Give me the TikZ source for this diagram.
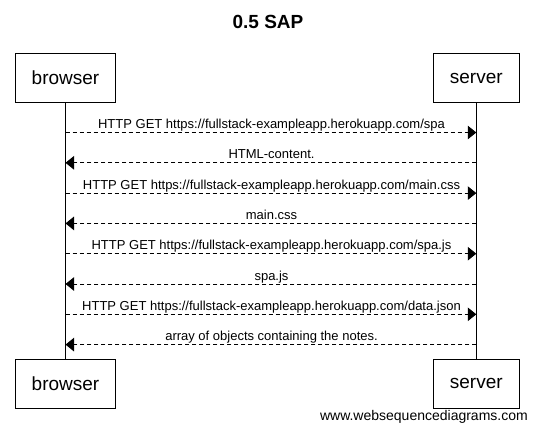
\documentclass[tikz,border=0pt]{standalone}
\usepackage{fontspec}
\setmainfont{Liberation Sans}
\usetikzlibrary{arrows.meta}
\begin{document}
\begin{tikzpicture}[x=1pt,y=-1pt,
  actor/.style={draw,line width=1pt,minimum width=#1,minimum height=49pt,inner sep=0pt,font=\fontsize{19}{23}\selectfont},
  life/.style={line width=1pt},
  msg/.style={line width=1pt,dash pattern=on 4pt off 3pt,-{Triangle[length=8.5pt,width=13.5pt]}},
  lbl/.style={anchor=base,inner sep=0pt,font=\fontsize{13}{15}\selectfont}]
\useasboundingbox (0,0) rectangle (534,432);
\node[anchor=base,inner sep=0pt,font=\bfseries\fontsize{19}{23}\selectfont] (title) at (268,28.5) {0.5 SAP};
\node[actor=100pt] (bt) at (65.5,78) {browser};
\node[actor=86pt] (st) at (476.3,78) {server};
\node[actor=100pt] (bb) at (65.5,383.5) {browser};
\node[actor=86pt] (sb) at (476.3,383.5) {server};
\draw[life] (bt.south) -- (bb.north);
\draw[life] (st.south) -- (sb.north);
\foreach \i/\y in {1/132.5,2/162.8,3/193.1,4/223.4,5/253.7,6/284,7/314.3,8/344.6}{
  \coordinate (b\i) at (65.5,\y);
  \coordinate (s\i) at (476.3,\y);
}
\draw[msg] (b1) -- (s1);
\draw[msg] (s2) -- (b2);
\draw[msg] (b3) -- (s3);
\draw[msg] (s4) -- (b4);
\draw[msg] (b5) -- (s5);
\draw[msg] (s6) -- (b6);
\draw[msg] (b7) -- (s7);
\draw[msg] (s8) -- (b8);
\node[lbl] (l1) at (271.5,128.5) {HTTP GET https://fullstack-exampleapp.herokuapp.com/spa};
\node[lbl] (l2) at (271.5,158.8) {HTML-content.};
\node[lbl] (l3) at (271.5,189.1) {HTTP GET https://fullstack-exampleapp.herokuapp.com/main.css};
\node[lbl] (l4) at (271.5,219.4) {main.css};
\node[lbl] (l5) at (271.5,249.7) {HTTP GET https://fullstack-exampleapp.herokuapp.com/spa.js};
\node[lbl] (l6) at (271.5,280) {spa.js};
\node[lbl] (l7) at (271.5,310.3) {HTTP GET https://fullstack-exampleapp.herokuapp.com/data.json};
\node[lbl] (l8) at (271.5,340.6) {array of objects containing the notes.};
\node[anchor=base east,inner sep=0pt,font=\fontsize{14}{16}\selectfont] (wm) at (528,420) {www.websequencediagrams.com};
\end{tikzpicture}
\end{document}
